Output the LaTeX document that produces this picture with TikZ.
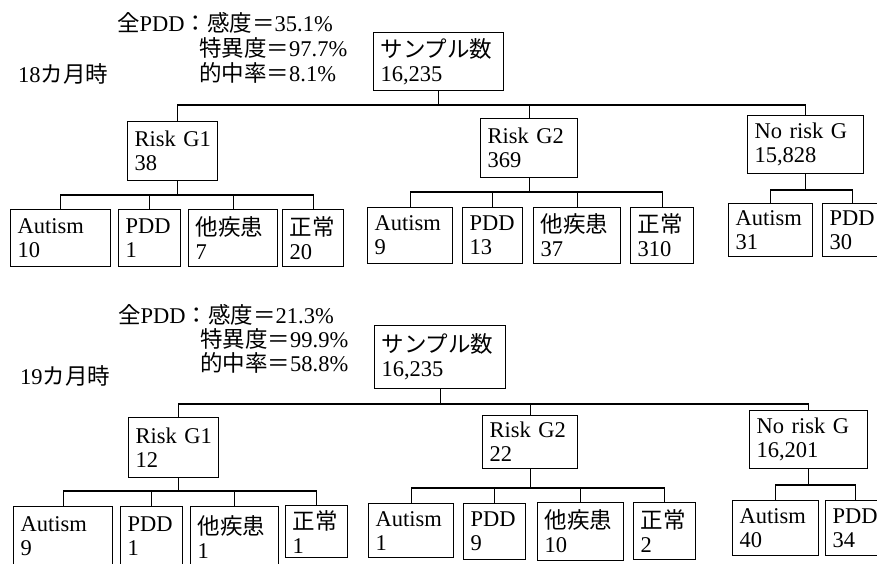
\documentclass[tikz,border=0pt]{standalone}
\usepackage{fontspec}
\setmainfont{Liberation Serif}
\newfontfamily\jp{Noto Sans CJK JP}
\begin{document}
\begin{tikzpicture}[x=1pt,y=-1pt,
  txt/.style={font=\fontsize{22.5}{24}\selectfont},
  lbl/.style={txt, anchor=west, inner sep=0pt},
  box/.style={txt, draw, line width=1.2pt, anchor=north west, inner xsep=7pt, inner ysep=0pt, align=left},
  link/.style={line width=1.2pt}]
\useasboundingbox (0,0) rectangle (877,563);
\clip (0,0) rectangle (877,563);
% ---------- 18 months ----------
\node[lbl] (t0) at (18,74) {18{\jp カ月時}};
\node[lbl] (t1) at (117,23) {{\jp 全}PDD{\jp ：感度＝}35.1\%};
\node[lbl] (t2) at (199,48) {{\jp 特異度＝}97.7\%};
\node[lbl] (t3) at (199,73) {{\jp 的中率＝}8.1\%};

\node[box, minimum width=130, text width=116pt, minimum height=58] (S1) at (373,32) {{\jp サンプル数}\\16,235};
\node[box, minimum width=90, text width=76pt, minimum height=59] (A1) at (127,121) {Risk~G1\\38};
\node[box, minimum width=97, text width=83pt, minimum height=59] (B1) at (480,118) {Risk~G2\\369};
\node[box, minimum width=116, text width=102pt, minimum height=58] (C1) at (747,115) {No~risk~G\\15,828};

\node[box, minimum width=100, text width=86pt, minimum height=57] (a1) at (10,209) {Autism\\10};
\node[box, minimum width=62, text width=48pt, minimum height=57] (a2) at (118,209) {PDD\\1};
\node[box, minimum width=89, text width=75pt, minimum height=57] (a3) at (188,209) {{\jp 他疾患}\\7};
\node[box, minimum width=61, text width=47pt, minimum height=57] (a4) at (282,209) {{\jp 正常}\\20};

\node[box, minimum width=85, text width=71pt, minimum height=56] (b1) at (367,207) {Autism\\9};
\node[box, minimum width=60, text width=46pt, minimum height=56] (b2) at (462,207) {PDD\\13};
\node[box, minimum width=87, text width=73pt, minimum height=56] (b3) at (533,207) {{\jp 他疾患}\\37};
\node[box, minimum width=63, text width=49pt, minimum height=56] (b4) at (630,207) {{\jp 正常}\\310};

\node[box, minimum width=84, text width=70pt, minimum height=53] (c1) at (728,203) {Autism\\31};
\node[box, minimum width=60, text width=46pt, minimum height=53] (c2) at (822,203) {PDD\\30};

\coordinate (h1) at (0,105);
\coordinate (ha) at (0,195);
\coordinate (hb) at (0,192);
\coordinate (hc) at (0,190);
\coordinate (A1s) at ([xshift=5pt]A1.south);
\coordinate (A1n) at ([xshift=5pt]A1.north);

\draw[link] (S1.south) -- (S1.south |- h1);
\draw[link] (A1n) -- (A1n |- h1) -| (C1.north);
\draw[link] (B1.north) -- (B1.north |- h1);

\draw[link] (A1s) -- (A1s |- ha);
\draw[link] (a1.north) -- (a1.north |- ha) -| (a4.north);
\draw[link] (a2.north) -- (a2.north |- ha);
\draw[link] (a3.north) -- (a3.north |- ha);

\draw[link] (B1.south) -- (B1.south |- hb);
\draw[link] (b1.north) -- (b1.north |- hb) -| (b4.north);
\draw[link] (b2.north) -- (b2.north |- hb);
\draw[link] (b3.north) -- (b3.north |- hb);

\draw[link] (C1.south) -- (C1.south |- hc);
\draw[link] (c1.north) -- (c1.north |- hc) -| (c2.north);

% ---------- 19 months ----------
\node[lbl] (u0) at (20,376) {19{\jp カ月時}};
\node[lbl] (u1) at (118,315) {{\jp 全}PDD{\jp ：感度＝}21.3\%};
\node[lbl] (u2) at (200,339) {{\jp 特異度＝}99.9\%};
\node[lbl] (u3) at (200,363) {{\jp 的中率＝}58.8\%};

\node[box, minimum width=131, text width=117pt, minimum height=63] (S2) at (374,325) {{\jp サンプル数}\\16,235};
\node[box, minimum width=90, text width=76pt, minimum height=60] (A2) at (128,417) {Risk~G1\\12};
\node[box, minimum width=95, text width=81pt, minimum height=53] (B2) at (482,415) {Risk~G2\\22};
\node[box, minimum width=118, text width=104pt, minimum height=58] (C2) at (749,410) {No~risk~G\\16,201};

\node[box, minimum width=99, text width=85pt, minimum height=60] (d1) at (13,506) {Autism\\9};
\node[box, minimum width=62, text width=48pt, minimum height=60] (d2) at (120,506) {PDD\\1};
\node[box, minimum width=88, text width=74pt, minimum height=60] (d3) at (190,506) {{\jp 他疾患}\\1};
\node[box, minimum width=62, text width=48pt, minimum height=52] (d4) at (285,505) {{\jp 正常}\\1};

\node[box, minimum width=85, text width=71pt, minimum height=54] (e1) at (368,503) {Autism\\1};
\node[box, minimum width=62, text width=48pt, minimum height=56] (e2) at (463,503) {PDD\\9};
\node[box, minimum width=86, text width=72pt, minimum height=58] (e3) at (537,502) {{\jp 他疾患}\\10};
\node[box, minimum width=62, text width=48pt, minimum height=57] (e4) at (633,502) {{\jp 正常}\\2};

\node[box, minimum width=86, text width=72pt, minimum height=55] (f1) at (732,500) {Autism\\40};
\node[box, minimum width=60, text width=46pt, minimum height=55] (f2) at (825,500) {PDD\\34};

\coordinate (h2) at (0,404);
\coordinate (hd) at (0,491);
\coordinate (he) at (0,488);
\coordinate (hf) at (0,485);
\coordinate (A2s) at ([xshift=5pt]A2.south);
\coordinate (A2n) at ([xshift=5pt]A2.north);

\draw[link] (S2.south) -- (S2.south |- h2);
\draw[link] (A2n) -- (A2n |- h2) -| (C2.north);
\draw[link] (B2.north) -- (B2.north |- h2);

\draw[link] (A2s) -- (A2s |- hd);
\draw[link] (d1.north) -- (d1.north |- hd) -| (d4.north);
\draw[link] (d2.north) -- (d2.north |- hd);
\draw[link] (d3.north) -- (d3.north |- hd);

\draw[link] (B2.south) -- (B2.south |- he);
\draw[link] (e1.north) -- (e1.north |- he) -| (e4.north);
\draw[link] (e2.north) -- (e2.north |- he);
\draw[link] (e3.north) -- (e3.north |- he);

\draw[link] (C2.south) -- (C2.south |- hf);
\draw[link] (f1.north) -- (f1.north |- hf) -| (f2.north);
\end{tikzpicture}
\end{document}
